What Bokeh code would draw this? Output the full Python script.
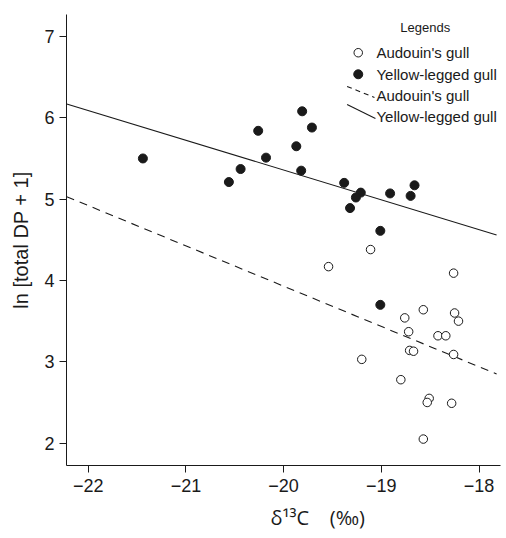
from bokeh.plotting import figure
from bokeh.models import Range1d, FixedTicker, Title
from bokeh.core.properties import value
from bokeh.embed import file_html
from bokeh.resources import INLINE

# Yellow-legged gull (filled)
yl_x = [-21.44, -20.56, -20.44, -20.26, -20.18, -19.81, -19.71, -19.87, -19.82,
        -19.38, -19.21, -19.26, -19.32, -18.91, -18.70, -18.66, -19.01, -19.01]
yl_y = [5.50, 5.21, 5.37, 5.84, 5.51, 6.08, 5.88, 5.65, 5.35,
        5.20, 5.08, 5.02, 4.89, 5.07, 5.04, 5.17, 4.61, 3.70]

# Audouin's gull (open)
au_x = [-19.11, -19.54, -18.26, -18.57, -18.76, -18.25, -18.21, -18.72, -18.42,
        -18.34, -18.71, -18.67, -18.26, -19.20, -18.80, -18.51, -18.53, -18.28, -18.57]
au_y = [4.38, 4.17, 4.09, 3.64, 3.54, 3.60, 3.50, 3.37, 3.32,
        3.32, 3.14, 3.13, 3.09, 3.03, 2.78, 2.55, 2.50, 2.49, 2.05]

# Fit lines (end points)
fit_x = [-22.22, -17.82]
yl_fit_y = [6.17, 4.56]
au_fit_y = [5.03, 2.85]

x_ticks = [-22, -21, -20, -19, -18]
y_ticks = [2, 3, 4, 5, 6, 7]

legend_labels = ["Audouin's gull", "Yellow-legged gull", "Audouin's gull", "Yellow-legged gull"]

FONT = "Liberation Sans"
INK = "#1a1a1a"

p = figure(width=506, height=538, output_backend="svg", toolbar_location=None,
           x_range=Range1d(-22.222, -17.78), y_range=Range1d(1.725, 7.27),
           min_border_left=66, min_border_right=6, min_border_top=14, min_border_bottom=73)
p.outline_line_color = None
p.grid.visible = False
p.background_fill_color = "white"
p.border_fill_color = "white"

for ax in (p.xaxis[0], p.yaxis[0]):
    ax.axis_line_color = INK
    ax.axis_line_width = 1
    ax.major_tick_line_color = INK
    ax.major_tick_out = 7
    ax.major_tick_in = 0
    ax.minor_tick_line_color = None
    ax.major_label_text_font = FONT
    ax.major_label_text_font_size = "18px"
    ax.major_label_text_color = INK

p.xaxis[0].ticker = FixedTicker(ticks=x_ticks)
p.yaxis[0].ticker = FixedTicker(ticks=y_ticks)
p.xaxis[0].major_label_standoff = 6
p.yaxis[0].major_label_standoff = 5

p.yaxis[0].axis_label = "ln [total DP + 1]"
p.yaxis[0].axis_label_text_font = FONT
p.yaxis[0].axis_label_text_font_size = "20px"
p.yaxis[0].axis_label_text_font_style = "normal"
p.yaxis[0].axis_label_text_color = INK
p.yaxis[0].axis_label_standoff = 9

# fit lines
p.line(fit_x, yl_fit_y, line_color=INK, line_width=1.1)
p.line(fit_x, au_fit_y, line_color=INK, line_width=1.1, line_dash="8 6")

# points
p.scatter(au_x, au_y, marker="circle", size=8.5, fill_color="white", line_color=INK, line_width=1)
p.scatter(yl_x, yl_y, marker="circle", size=9, fill_color=INK, line_color=INK)

# Legend (drawn)
p.text(x=[-18.55], y=[7.11], text=["Legends"], text_font=value(FONT), text_font_size="13px",
       text_align="center", text_baseline="middle", text_color=INK)
p.scatter([-19.236], [6.80], marker="circle", size=8.5, fill_color="white", line_color=INK)
p.scatter([-19.236], [6.535], marker="circle", size=9, fill_color=INK, line_color=INK)
p.line([-19.35, -19.07], [6.385, 6.25], line_color=INK, line_width=1.1, line_dash="5 4")
p.line([-19.35, -19.06], [6.164, 5.99], line_color=INK, line_width=1.1)
p.text(x=[-19.05] * 4, y=[6.80, 6.535, 6.275, 6.02], text=legend_labels,
       text_font=value(FONT), text_font_size="15px", text_align="left",
       text_baseline="middle", text_color=INK)

# X axis title  δ13C (‰) placed in the bottom panel
p.add_layout(Title(text="δ\u00b9\u00b3C\u00a0\u00a0\u00a0\u00a0(\u2030)", align="left", offset=204,
                   standoff=15, text_font="Open Sans", text_font_size="20px",
                   text_font_style="normal", text_color=INK), "below")

open("out.html", "w").write(file_html(p, INLINE))
